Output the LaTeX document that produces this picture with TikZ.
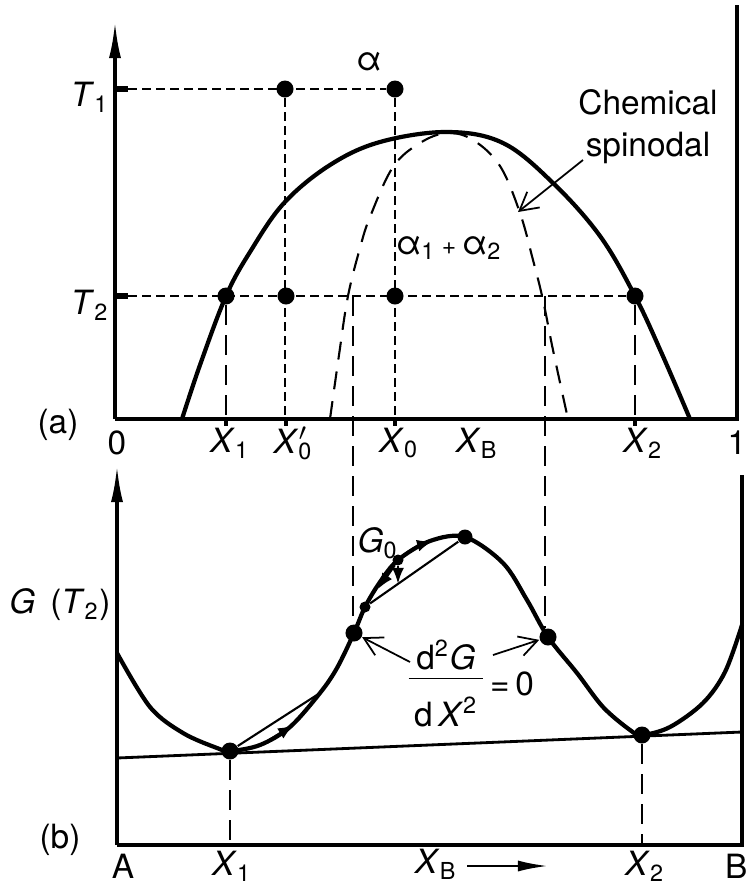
\documentclass[tikz,border=0pt]{standalone}
\usepackage{fontspec}
\setmainfont{TeX Gyre Heros}
\usetikzlibrary{arrows.meta}
\newcommand{\vx}[2]{\textit{#1}\textsubscript{#2}}
\newcommand{\vxp}[2]{\textit{#1}\rlap{\textsubscript{#2}}$'$}
\tikzset{
  axln/.style={line width=0.9pt},
  axarr/.style={-{Latex[length=3.6mm,width=1.2mm]},line width=0.9pt},
  bdy/.style={line width=1.2pt},
  spin/.style={line width=0.6pt,dash pattern=on 1.8mm off 1.2mm},
  sdash/.style={line width=0.6pt,dash pattern=on 0.9mm off 0.5mm},
  ldash/.style={line width=0.6pt,dash pattern=on 2mm off 1mm},
  dot/.style={circle,fill=black,inner sep=0pt,minimum size=1.7mm},
  sdot/.style={circle,fill=black,inner sep=0pt,minimum size=1.1mm},
  barb/.style={-{Straight Barb[length=1.8mm,width=2mm]},line width=0.5pt},
  tinyarr/.style={-{Latex[length=1.6mm,width=1.2mm]},line width=0.8pt},
}

\begin{document}
\begin{tikzpicture}[x=0.01cm,y=-0.01cm,font=\fontsize{9.5}{11}\selectfont]
  \useasboundingbox (0,0) rectangle (749,884);
  % ---- (a) T--X diagram: miscibility gap and chemical spinodal ----
  \coordinate (oa) at (115,419);
  \coordinate (ta) at (115,22);
  \coordinate (ea) at (737,419);
  \coordinate (ra) at (737,5);
  \draw[axarr] (oa) -- (ta);
  \draw[axln] (oa) -- (ea) -- (ra);
  \coordinate (t1) at (128,89);
  \coordinate (t2) at (128,296);
  \draw[line width=1.6pt] (115,89) -- (t1);
  \draw[line width=1.6pt] (115,296) -- (t2);
  \node (lt1) at (90,97) {\vx{T}{1}};
  \node (lt2) at (90,305) {\vx{T}{2}};
  \node (la) at (58,425) {(a)};
  \node (l0) at (117,443) {0};
  \node (l1) at (737,443) {1};
  % miscibility gap
  \draw[bdy] plot[smooth,tension=0.6] coordinates {(182,419) (200,365) (226,296)
    (250,252) (284,203) (330,165) (380,142) (447,132) (503,143) (553,183)
    (600,236) (635,296) (662,354) (690,419)};
  % chemical spinodal
  \draw[spin] plot[smooth,tension=0.6] coordinates {(330,419) (339,355) (348,296)
    (360,248) (370,217) (393,167) (420,143) (447,133) (473,140) (500,166)
    (520,213) (533,260) (543,300) (553,350) (568,419)};
  \node[dot] (a1) at (226,296) {};
  \node[dot] (a0p) at (286,296) {};
  \node[dot] (a0) at (395,296) {};
  \node[dot] (a2) at (635,296) {};
  \node[dot] (b0p) at (285,89) {};
  \node[dot] (b0) at (395,89) {};
  \draw[sdash] (t1) -- (b0);
  \draw[sdash] (t2) -- (a2);
  \draw[sdash] (b0p) -- (b0p |- oa);
  \draw[sdash] (b0) -- (b0 |- oa);
  \draw[ldash] (a1) -- (a1 |- oa);
  \draw[ldash] (a2) -- (a2 |- oa);
  \foreach \p in {a1,a0p,a0,a2}
    \draw[axln] (\p |- oa) -- ++(0,7);
  \node (lx1) at (230,443) {\vx{X}{1}};
  \node (lx0p) at (291,443) {\vxp{X}{0}};
  \node (lx0) at (399,443) {\vx{X}{0}};
  \node (lxb) at (477,443) {\vx{X}{B}};
  \node (lx2) at (643,443) {\vx{X}{2}};
  \node (lal) at (369,62) {α};
  \node (lal12) at (449,248) {α\textsubscript{1}\,{\scriptsize+}\,α\textsubscript{2}};
  \node[align=center] (lcs) at (648,127) {Chemical\\[1pt]spinodal};
  \coordinate (cs) at (583,160);
  \coordinate (cs0) at (518,212);
  \draw[barb] (cs) -- (cs0);
  % ---- (b) free energy curve at T2 ----
  \coordinate (ob) at (117,845);
  \coordinate (tb) at (117,466);
  \coordinate (eb) at (742,845);
  \coordinate (rb) at (742,475);
  \draw[axarr] (ob) -- (tb);
  \draw[axln] (ob) -- (eb) -- (rb);
  \node (lg) at (60,605) {\textit{G}\, (\vx{T}{2})};
  \node (lb) at (60,840) {(b)};
  \node (lA) at (123,866) {A};
  \node (lbx1) at (232,866) {\vx{X}{1}};
  \node (lbxb) at (436,864) {\vx{X}{B}};
  \node (lbx2) at (645,866) {\vx{X}{2}};
  \node[anchor=east,inner sep=0pt] (lB) at (748,866) {B};
  \coordinate (xa) at (467,866);
  \coordinate (xe) at (548,866);
  \draw[-{Latex[length=3mm,width=1.1mm]},line width=0.7pt] (xa) -- (xe);
  \draw[bdy] plot[smooth,tension=0.55] coordinates {(117,653) (150,707) (183,733)
    (217,748) (230,751) (260,745) (290,727) (320,693) (337,668) (354,633)
    (365,607) (380,582) (398,560) (430,541) (465,537) (503,563) (527,600)
    (548,637) (577,673) (603,707) (630,730) (642,735) (670,727) (703,703)
    (725,672) (742,625)};
  % common tangent
  \coordinate (cl) at (117,758);
  \coordinate (cr) at (742,732);
  \draw[line width=0.8pt] (cl) -- (cr);
  \node[dot] (m1) at (230,751) {};
  \node[dot] (m2) at (642,735) {};
  \node[dot] (s1) at (354,633) {};
  \node[dot] (s2) at (548,637) {};
  \node[dot,minimum size=1.5mm] (p0) at (465,537) {};
  \node[sdot] (g0) at (398,560) {};
  \node[sdot] (gl) at (365,607) {};
  \draw[ldash] (m1) -- (m1 |- ob);
  \draw[ldash] (m2) -- (m2 |- ob);
  % spinodal points carried down from (a)
  \coordinate (sp1) at (353,296);
  \coordinate (sp2) at (545,296);
  \draw[ldash] (sp1) -- (sp1 |- s1.north);
  \draw[ldash] (sp2) -- (sp2 |- s2.north);
  % fluctuations about X0 and X1
  \draw[line width=0.6pt] (gl) -- (p0);
  \coordinate (gc) at (398,584);
  \draw[tinyarr] (g0) -- (gc);
  \draw[tinyarr] (g0) -- (378,589);
  \draw[tinyarr] (g0) to[bend left=10] (433,541);
  \node (lg0) at (378,543) {\vx{G}{0}};
  \coordinate (c1) at (320,693);
  \draw[line width=0.6pt] (m1) -- (c1);
  \draw[tinyarr] (268,741) -- (294,725);
  \node (frac) at (446,689) {\begin{tabular}{@{\,}c@{\,}}d\textsuperscript{2}\textit{G}\\[-1pt]\hline\rule{0pt}{2.7ex}d\,\textit{X}\textsuperscript{2}\end{tabular}};
  \node[anchor=west,inner sep=1pt] (eq0) at (486,684) {=\,0};
  \coordinate (fl) at (410,662);
  \coordinate (fr) at (493,655);
  \draw[barb] (fl) -- (s1);
  \draw[barb] (fr) -- (s2);
\end{tikzpicture}
\end{document}
